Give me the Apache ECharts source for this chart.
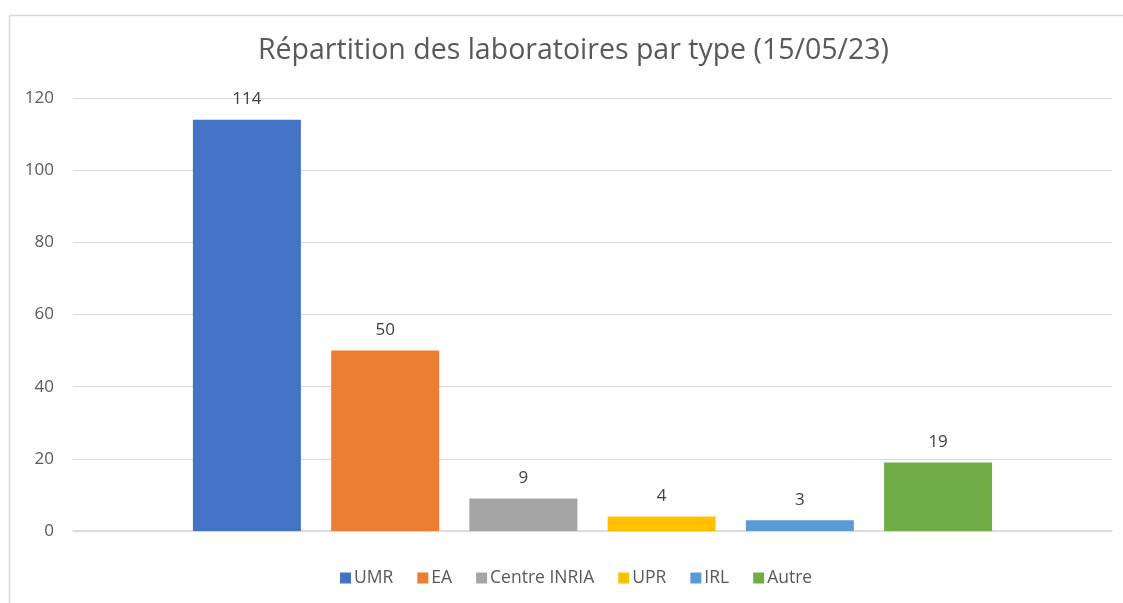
<!DOCTYPE html>
<html>
<head>
<meta charset="utf-8">
<script src="https://cdn.jsdelivr.net/npm/echarts@6/dist/echarts.min.js"></script>
<style>html,body{margin:0;padding:0;background:#fff}#c{width:1123px;height:603px}</style>
</head>
<body>
<div id="c"></div>
<script>
const titleText = 'Répartition des laboratoires par type (15/05/23)';
const seriesNames = ['UMR', 'EA', 'Centre INRIA', 'UPR', 'IRL', 'Autre'];
const seriesValues = [114, 50, 9, 4, 3, 19];
const colors = ['#4472C4', '#ED7D31', '#A5A5A5', '#FFC000', '#5B9BD5', '#70AD47'];
const yTicks = [0, 20, 40, 60, 80, 100, 120];

const font = '"Open Sans", "Noto Sans", sans-serif';
const chart = echarts.init(document.getElementById('c'), null, {renderer: 'canvas'});
chart.setOption({
  animation: false,
  textStyle: {fontFamily: font},
  title: {
    text: titleText, left: 253, top: 31,
    textStyle: {fontFamily: font, fontSize: 28.5, fontWeight: 'normal', color: '#595959'}
  },
  graphic: [{
    type: 'rect', left: 7, top: 13, shape: {width: 1200, height: 700},
    style: {fill: 'none', stroke: '#d9d9d9', lineWidth: 1.5}, silent: true, z: -1
  }],
  legend: {
    data: seriesNames, bottom: 11, left: 335, itemWidth: 11, itemHeight: 11, itemGap: 24,
    icon: 'rect',
    textStyle: {fontFamily: font, fontSize: 17.5, color: '#595959', padding: [0, 0, 0, -2]}
  },
  grid: {left: 73, right: 11, top: 98, bottom: 72, containLabel: false},
  xAxis: {
    type: 'category', data: [''],
    axisLine: {show: true, lineStyle: {color: '#d9d9d9', width: 1.5}},
    axisTick: {show: false}, axisLabel: {show: false}
  },
  yAxis: {
    type: 'value', min: yTicks[0], max: yTicks[yTicks.length - 1], interval: 20,
    axisLine: {show: false}, axisTick: {show: false},
    splitLine: {lineStyle: {color: '#d9d9d9', width: 1}},
    axisLabel: {fontFamily: font, fontSize: 17, color: '#595959', margin: 19}
  },
  series: seriesNames.map((n, i) => ({
    name: n, type: 'bar', data: [seriesValues[i]], barWidth: 108, barGap: '28%',
    itemStyle: {color: colors[i]},
    label: {show: true, position: 'top', distance: 12, fontFamily: font, fontSize: 17, color: '#404040'}
  }))
});
</script>
</body>
</html>
